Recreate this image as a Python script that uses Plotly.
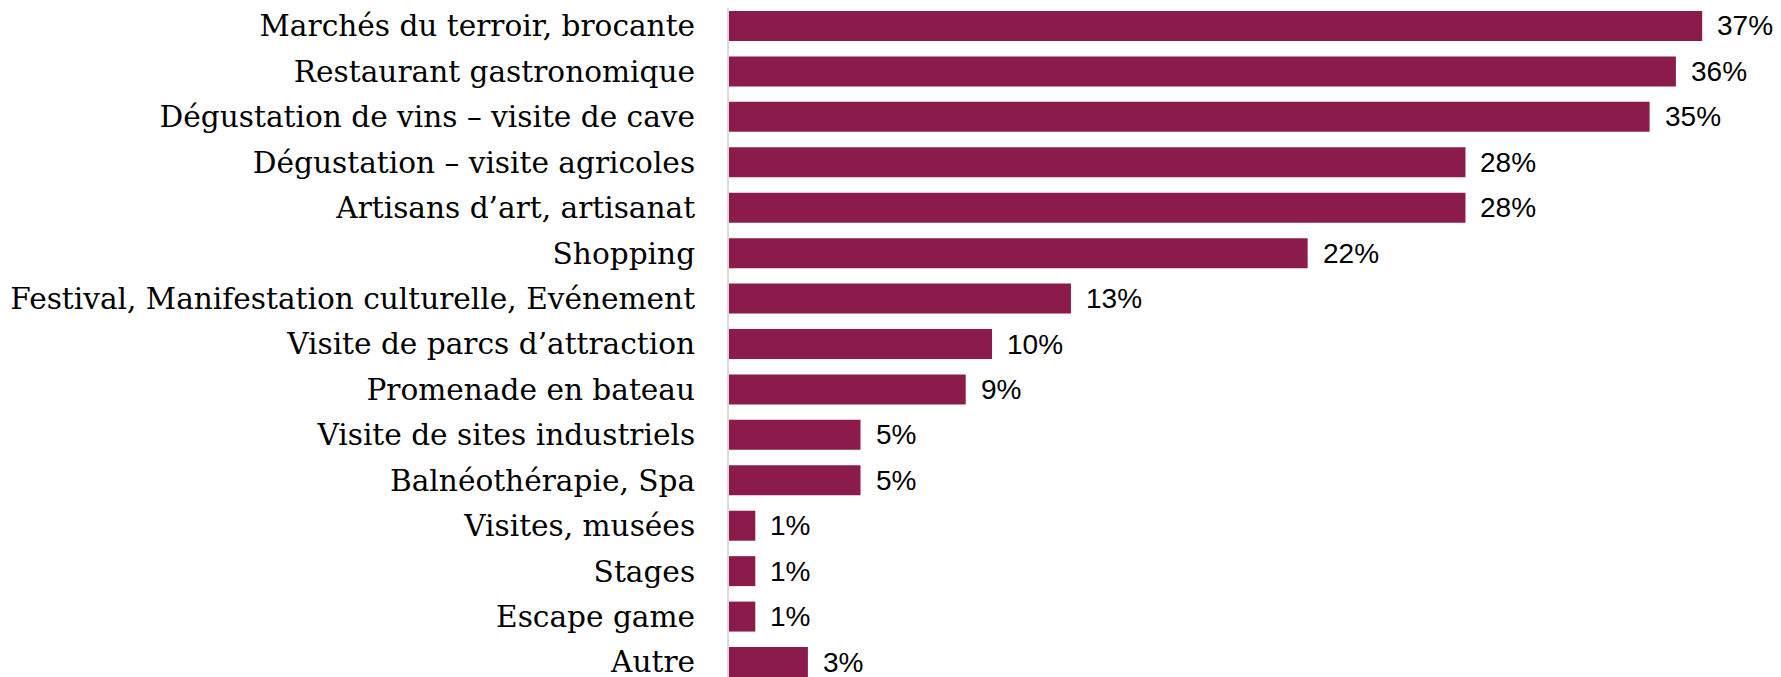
import plotly.graph_objects as go

categories = [
    "Marchés du terroir, brocante",
    "Restaurant gastronomique",
    "Dégustation de vins – visite de cave",
    "Dégustation – visite agricoles",
    "Artisans d’art, artisanat",
    "Shopping",
    "Festival, Manifestation culturelle, Evénement",
    "Visite de parcs d’attraction",
    "Promenade en bateau",
    "Visite de sites industriels",
    "Balnéothérapie, Spa",
    "Visites, musées",
    "Stages",
    "Escape game",
    "Autre",
]
values = [37, 36, 35, 28, 28, 22, 13, 10, 9, 5, 5, 1, 1, 1, 3]
value_labels = ["37%", "36%", "35%", "28%", "28%", "22%", "13%", "10%", "9%",
                "5%", "5%", "1%", "1%", "1%", "3%"]

BAR_COLOR = "#8A1B4A"

fig = go.Figure()
fig.add_trace(go.Bar(
    x=values,
    y=categories,
    orientation="h",
    marker=dict(color=BAR_COLOR, line=dict(width=0)),
    hoverinfo="skip",
))

for c, v, t in zip(categories, values, value_labels):
    fig.add_annotation(
        x=v, y=c, text=t, xanchor="left", yanchor="middle",
        xshift=13, showarrow=False,
        font=dict(family="Liberation Sans, Arial", size=28, color="#000000"),
    )

fig.update_layout(
    width=1781, height=677,
    margin=dict(l=721, r=0, t=0, b=0),
    paper_bgcolor="white",
    plot_bgcolor="white",
    bargap=0.34,
    showlegend=False,
)
fig.update_xaxes(range=[0, 40.3], visible=False, showgrid=False, zeroline=False)
fig.update_yaxes(
    type="category",
    categoryorder="array",
    categoryarray=categories,
    range=[14.506, -0.396],
    showline=True, linecolor="#d9d9d9", linewidth=2,
    showgrid=False, zeroline=False,
    ticks="", ticklabelstandoff=26,
    tickfont=dict(family="DejaVu Serif, serif", size=29.6, color="#000000"),
)

fig.write_html("out.html")
